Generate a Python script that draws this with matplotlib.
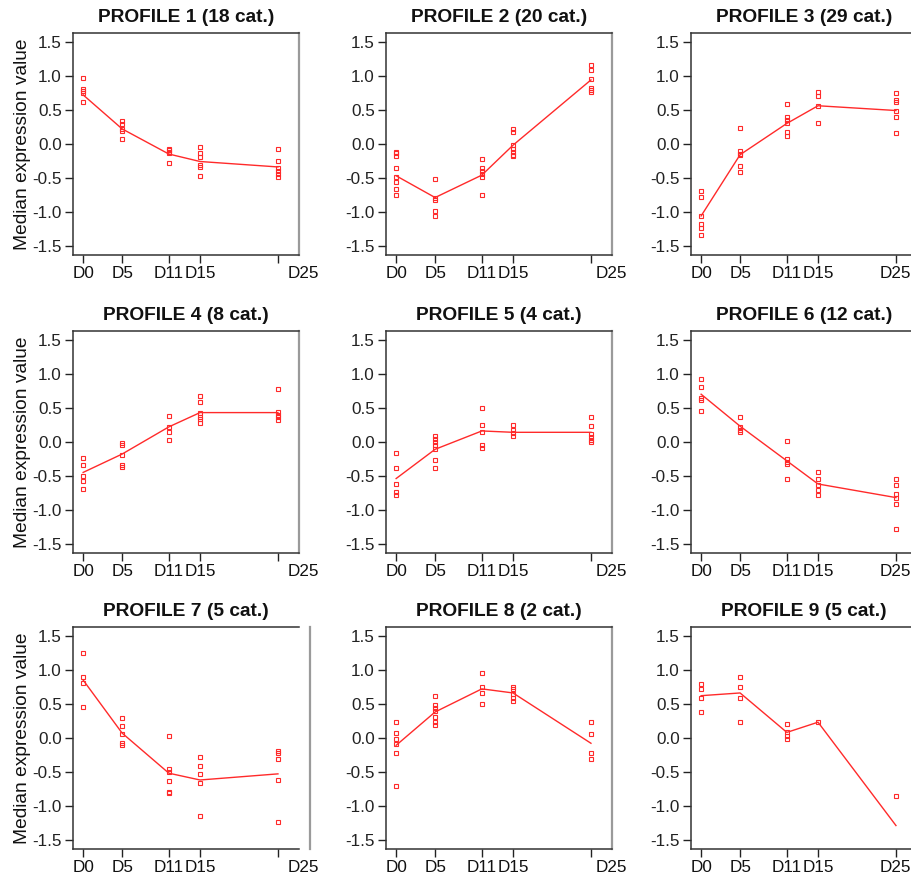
import matplotlib
matplotlib.use("Agg")
import matplotlib.pyplot as plt
from matplotlib.transforms import ScaledTranslation

plt.rcParams['font.family'] = ['Liberation Sans', 'DejaVu Sans']

days = [0, 5, 11, 15, 25]
day_labels = ["D0", "D5", "D11", "D15", "D25"]
y_ticks = [1.5, 1.0, 0.5, 0.0, -0.5, -1.0, -1.5]

profile_names = ["PROFILE 1", "PROFILE 2", "PROFILE 3", "PROFILE 4", "PROFILE 5",
                 "PROFILE 6", "PROFILE 7", "PROFILE 8", "PROFILE 9"]
profile_counts = [18, 20, 29, 8, 4, 12, 5, 2, 5]

p1_median = [0.72, 0.22, -0.15, -0.26, -0.34]
p1_points = [[0.97, 0.81, 0.78, 0.75, 0.61],
             [0.33, 0.29, 0.22, 0.19, 0.07],
             [-0.07, -0.09, -0.12, -0.14, -0.28],
             [-0.05, -0.13, -0.19, -0.31, -0.34, -0.48],
             [-0.08, -0.25, -0.35, -0.40, -0.45, -0.49]]

p2_median = [-0.47, -0.79, -0.46, -0.02, 0.94]
p2_points = [[-0.12, -0.14, -0.18, -0.35, -0.49, -0.56, -0.67, -0.75],
             [-0.51, -0.79, -0.82, -0.99, -1.06],
             [-0.23, -0.36, -0.40, -0.45, -0.49, -0.75],
             [0.22, 0.18, -0.02, -0.08, -0.12, -0.16, -0.18],
             [1.16, 1.08, 0.96, 0.82, 0.79, 0.76]]

p3_median = [-1.06, -0.16, 0.30, 0.56, 0.49]
p3_points = [[-0.70, -0.78, -1.06, -1.18, -1.24, -1.34],
             [0.23, -0.11, -0.15, -0.17, -0.33, -0.42],
             [0.59, 0.40, 0.35, 0.30, 0.17, 0.12],
             [0.76, 0.71, 0.55, 0.31],
             [0.75, 0.65, 0.62, 0.48, 0.39, 0.16]]

p4_median = [-0.45, -0.18, 0.22, 0.43, 0.43]
p4_points = [[-0.24, -0.34, -0.50, -0.58, -0.70],
             [-0.02, -0.05, -0.19, -0.34, -0.37],
             [0.38, 0.22, 0.15, 0.02],
             [0.68, 0.58, 0.43, 0.37, 0.33, 0.28],
             [0.77, 0.44, 0.40, 0.37, 0.32]]

p5_median = [-0.54, -0.11, 0.16, 0.14, 0.14]
p5_points = [[-0.16, -0.39, -0.62, -0.74, -0.78],
             [0.08, 0.04, 0.00, -0.05, -0.11, -0.26, -0.39],
             [0.50, 0.25, 0.14, -0.05, -0.09],
             [0.25, 0.18, 0.13, 0.08],
             [0.37, 0.23, 0.12, 0.07, 0.03, 0.00]]

p6_median = [0.70, 0.23, -0.28, -0.62, -0.82]
p6_points = [[0.92, 0.81, 0.64, 0.61, 0.46],
             [0.36, 0.22, 0.17, 0.14],
             [0.01, -0.25, -0.29, -0.32, -0.54],
             [-0.44, -0.54, -0.64, -0.71, -0.78],
             [-0.54, -0.64, -0.76, -0.83, -0.91, -1.28]]

p7_median = [0.85, 0.07, -0.52, -0.62, -0.53]
p7_points = [[1.25, 0.89, 0.80, 0.45],
             [0.29, 0.17, 0.06, -0.08, -0.10],
             [0.02, -0.46, -0.50, -0.63, -0.79, -0.81],
             [-0.28, -0.42, -0.53, -0.67, -1.15],
             [-0.20, -0.23, -0.31, -0.62, -1.24]]

p8_median = [-0.11, 0.38, 0.72, 0.66, -0.08]
p8_points = [[0.24, 0.07, -0.02, -0.09, -0.23, -0.71],
             [0.61, 0.49, 0.44, 0.39, 0.31, 0.24, 0.19],
             [0.96, 0.75, 0.66, 0.50],
             [0.75, 0.72, 0.65, 0.58, 0.54],
             [0.24, 0.06, -0.23, -0.31]]

p9_median = [0.62, 0.66, 0.08, 0.23, -1.29]
p9_points = [[0.79, 0.72, 0.58, 0.38],
             [0.89, 0.75, 0.58, 0.23],
             [0.21, 0.08, 0.02, -0.02],
             [0.23],
             [-0.86]]

medians = [p1_median, p2_median, p3_median, p4_median, p5_median,
           p6_median, p7_median, p8_median, p9_median]
points = [p1_points, p2_points, p3_points, p4_points, p5_points,
          p6_points, p7_points, p8_points, p9_points]

W, H = 911, 876
fig = plt.figure(figsize=(W / 100, H / 100), dpi=100)

col_left = [73, 386, 691]
row_top = [33, 331, 627]
ax_w, ax_h = 226, 222
d25_shift = [0.25, 0.20, -0.01]   # inches, horizontal offset of the D25 label per column
red = '#ff2a2a'
dark = '#222222'

for i in range(9):
    r, c = divmod(i, 3)
    rect = [col_left[c] / W, 1 - (row_top[r] + ax_h) / H, ax_w / W, ax_h / H]
    ax = fig.add_axes(rect)
    ax.plot(days, medians[i], color=red, lw=1.0, zorder=3)
    for d, vals in zip(days, points[i]):
        ax.plot([d] * len(vals), vals, linestyle='none', marker='s', markersize=3.0,
                markerfacecolor='none', markeredgecolor=red, markeredgewidth=0.8, zorder=4)
    ax.set_xlim(-1.3, 27.7)
    ax.set_ylim(-1.635, 1.63)
    ax.set_xticks(days)
    ax.set_xticklabels(day_labels)
    ax.set_yticks(y_ticks)
    ax.set_yticklabels([f"{v:.1f}" for v in y_ticks])
    ax.tick_params(direction='out', length=6, width=1, colors=dark, labelsize=12.3, pad=2)
    for lab in ax.get_xticklabels():
        lab.set_color('#111111')
    last = ax.get_xticklabels()[-1]
    last.set_transform(last.get_transform() + ScaledTranslation(d25_shift[c], 0, fig.dpi_scale_trans))
    for s in ['left', 'bottom', 'top']:
        ax.spines[s].set_color('#333333')
        ax.spines[s].set_linewidth(1.1)
    ax.spines['right'].set_color('#9a9a9a')
    ax.spines['right'].set_linewidth(1.6)
    if i == 6:
        ax.spines['right'].set_position(('outward', 8))
    ax.set_title(f"{profile_names[i]} ({profile_counts[i]} cat.)", fontsize=13.8,
                 fontweight='bold', color='#111111', pad=8)
    if c == 0:
        ax.set_ylabel("Median expression value", fontsize=13.8, color='#111111', labelpad=1)

fig.savefig("out.png", dpi=100)
